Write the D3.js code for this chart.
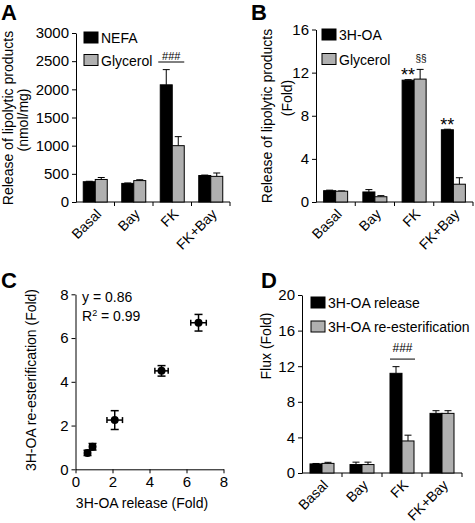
<!DOCTYPE html>
<html><head><meta charset="utf-8">
<script src="https://cdn.jsdelivr.net/npm/d3@7"></script>
<style>
body{margin:0;background:#fff;}
svg{display:block;font-family:"Liberation Sans",Arial,sans-serif;}
text{fill:#000;}
</style></head><body>
<svg id="c" width="475" height="523"></svg>
<script>
const categories = ["Basal","Bay","FK","FK+Bay"];
// Panel A
const nefa = [360, 330, 2080, 470];
const nefaErr = [8, 8, 270, 8];
const glycerolA = [400, 380, 1000, 455];
const glycerolAErr = [35, 15, 160, 60];
const ticksA = [0, 500, 1000, 1500, 2000, 2500, 3000];
// Panel B
const oaB = [1.05, 0.93, 11.3, 6.7];
const oaBErr = [0.05, 0.22, 0.05, 0.05];
const glycerolB = [1.0, 0.49, 11.4, 1.65];
const glycerolBErr = [0.03, 0.1, 0.9, 0.6];
const ticksB = [0, 4, 8, 12, 16];
// Panel C
const releaseX = [0.65, 0.92, 2.12, 4.65, 6.65];
const releaseXErr = [0.12, 0.15, 0.42, 0.36, 0.42];
const reestY = [0.75, 1.03, 2.25, 4.5, 6.7];
const reestYErr = [0.12, 0.15, 0.43, 0.24, 0.38];
const ticksC = [0, 2, 4, 6, 8];
// Panel D
const releaseD = [1.02, 0.95, 11.2, 6.7];
const releaseDErr = [0.05, 0.27, 0.75, 0.3];
const reestD = [1.08, 0.95, 3.6, 6.7];
const reestDErr = [0.12, 0.27, 0.65, 0.3];
const ticksD = [0, 4, 8, 12, 16, 20];

const GRAY = "#b0b0b0";
const TICKFONT = "15px";
const svg = d3.select("#c");

function barPanel(o){
  const g = svg.append("g");
  const x = d3.scaleBand().domain(categories).range([o.x0, o.x1]).padding(0);
  const x1 = d3.scaleBand().domain([0,1]).range([0, 24]);
  const off = (x.bandwidth() - 24) / 2;
  const y = d3.scaleLinear().domain([0, o.ymax]).range([o.y0, o.ytop]);
  const ya = g.append("g").attr("transform", `translate(${o.x0},0)`)
    .call(d3.axisLeft(y).tickValues(o.ticks).tickFormat(d3.format("d")).tickSize(4).tickPadding(3).tickSizeOuter(0));
  ya.select(".domain").attr("stroke","#000");
  ya.selectAll("text").style("font-size",TICKFONT).attr("fill","#000");
  const xa = g.append("g").attr("transform", `translate(0,${o.y0})`);
  xa.append("line").attr("x1", o.x0).attr("x2", o.x1).attr("stroke","#000");
  categories.forEach(c => {
    const bx = x(c) + x.bandwidth();
    xa.append("line").attr("x1", bx).attr("x2", bx).attr("y1", 0).attr("y2", 4).attr("stroke","#000");
  });
  categories.forEach(c => {
    const cx = x(c) + x.bandwidth()/2;
    xa.append("text").attr("text-anchor","end").style("font-size","14px")
      .attr("transform", `translate(${cx+7},${13}) rotate(-45)`).text(c);
  });
  o.series.forEach((s, si) => {
    categories.forEach((c, i) => {
      const bx = x(c) + off + x1(si);
      const v = s.values[i], e = s.err[i];
      g.append("line").attr("x1", bx + 6).attr("x2", bx + 6)
        .attr("y1", y(v)).attr("y2", y(v + e)).attr("stroke","#000");
      g.append("line").attr("x1", bx + 2.5).attr("x2", bx + 9.5)
        .attr("y1", y(v + e)).attr("y2", y(v + e)).attr("stroke","#000");
      g.append("rect").attr("x", bx).attr("y", y(v)).attr("width", 12)
        .attr("height", y(0) - y(v)).attr("fill", s.color).attr("stroke","#000").attr("stroke-width",1);
    });
  });
  o.series.forEach((s, si) => {
    const ly = o.legY + si * o.legStep;
    g.append("rect").attr("x", o.legX).attr("y", ly).attr("width", 14).attr("height", 11)
      .attr("fill", s.color).attr("stroke","#000");
    g.append("text").attr("x", o.legX + 17).attr("y", ly + 11).style("font-size","14px").text(s.name);
  });
  o.ylabel.forEach(l => {
    g.append("text").attr("text-anchor","middle").style("font-size","14px")
      .attr("transform", `translate(${l.x},${l.y}) rotate(-90)`).text(l.t);
  });
  g.append("text").attr("x", o.titleX).attr("y", o.titleY).style("font-size","22px")
    .style("font-weight","bold").text(o.title);
  return {g, x, y, off, x1};
}

const A = barPanel({x0:76, x1:230, y0:202, ytop:33, ymax:3000, ticks:ticksA,
  series:[{name:"NEFA", values:nefa, err:nefaErr, color:"#000"},
          {name:"Glycerol", values:glycerolA, err:glycerolAErr, color:GRAY}],
  legX:84, legY:32, legStep:22.5,
  ylabel:[{x:13, y:118, t:"Release of lipolytic products"},{x:28, y:120, t:"(nmol/mg)"}],
  title:"A", titleX:1, titleY:20});
{
  const fx = A.x("FK") + A.off;
  const ly = A.y(2485);
  A.g.append("line").attr("x1", fx - 2).attr("x2", fx + 24).attr("y1", ly).attr("y2", ly).attr("stroke","#000");
  A.g.append("text").attr("x", fx + 11).attr("y", ly - 2).attr("text-anchor","middle").style("font-size","11px").text("###");
}

const B = barPanel({x0:316, x1:473, y0:202, ytop:29.5, ymax:16, ticks:ticksB,
  series:[{name:"3H-OA", values:oaB, err:oaBErr, color:"#000"},
          {name:"Glycerol", values:glycerolB, err:glycerolBErr, color:GRAY}],
  legX:322, legY:29, legStep:24.5,
  ylabel:[{x:272, y:116, t:"Release of lipolytic products"},{x:292, y:98, t:"(Fold)"}],
  title:"B", titleX:251, titleY:20});
{
  const fk = B.x("FK") + B.off, fb = B.x("FK+Bay") + B.off;
  B.g.append("text").attr("x", fk + 6).attr("y", B.y(oaB[2]) + 1).attr("text-anchor","middle").style("font-size","18px").text("**");
  B.g.append("text").attr("x", fb + 6).attr("y", B.y(oaB[3]) + 1).attr("text-anchor","middle").style("font-size","18px").text("**");
  B.g.append("text").attr("x", fk + 19).attr("y", B.y(glycerolB[2] + glycerolBErr[2]) - 7).attr("text-anchor","middle").style("font-size","10px").text("§§");
}

const D = barPanel({x0:302, x1:462, y0:473, ytop:295, ymax:20, ticks:ticksD,
  series:[{name:"3H-OA release", values:releaseD, err:releaseDErr, color:"#000"},
          {name:"3H-OA re-esterification", values:reestD, err:reestDErr, color:GRAY}],
  legX:311, legY:297, legStep:24,
  ylabel:[{x:271, y:346, t:"Flux (Fold)"}],
  title:"D", titleX:261, titleY:288});
{
  const fx = D.x("FK") + D.off;
  const ly = D.y(12.8);
  D.g.append("line").attr("x1", fx).attr("x2", fx + 25).attr("y1", ly).attr("y2", ly).attr("stroke","#000");
  D.g.append("text").attr("x", fx + 12.5).attr("y", ly - 7).attr("text-anchor","middle").style("font-size","12px").text("###");
}

{
  const g = svg.append("g");
  const x = d3.scaleLinear().domain([0, 8]).range([75.5, 223.5]);
  const y = d3.scaleLinear().domain([0, 8]).range([469.3, 294.3]);
  const ya = g.append("g").attr("transform", `translate(${x(0)},0)`)
    .call(d3.axisLeft(y).tickValues(ticksC).tickSize(4).tickPadding(3).tickSizeOuter(0));
  ya.selectAll("text").style("font-size",TICKFONT);
  const xa = g.append("g").attr("transform", `translate(0,${y(0)})`)
    .call(d3.axisBottom(x).tickValues(ticksC).tickSize(4).tickPadding(3).tickSizeOuter(0));
  xa.selectAll("text").style("font-size",TICKFONT);
  releaseX.forEach((vx, i) => {
    const vy = reestY[i], ex = releaseXErr[i], ey = reestYErr[i];
    const px = x(vx), py = y(vy);
    g.append("line").attr("x1", x(vx - ex)).attr("x2", x(vx + ex)).attr("y1", py).attr("y2", py).attr("stroke","#000").attr("stroke-width",1.5);
    g.append("line").attr("x1", px).attr("x2", px).attr("y1", y(vy - ey)).attr("y2", y(vy + ey)).attr("stroke","#000").attr("stroke-width",1.5);
    [x(vx - ex), x(vx + ex)].forEach(cx => g.append("line").attr("x1", cx).attr("x2", cx).attr("y1", py - 3).attr("y2", py + 3).attr("stroke","#000").attr("stroke-width",1.5));
    [y(vy - ey), y(vy + ey)].forEach(cy => g.append("line").attr("x1", px - 4).attr("x2", px + 4).attr("y1", cy).attr("y2", cy).attr("stroke","#000").attr("stroke-width",1.5));
    g.append("circle").attr("cx", px).attr("cy", py).attr("r", 4).attr("fill","#000");
  });
  g.append("text").attr("x", 82).attr("y", 301.7).style("font-size","14px").text("y = 0.86");
  const t = g.append("text").attr("x", 82).attr("y", 320.7).style("font-size","14px");
  t.append("tspan").text("R");
  t.append("tspan").attr("dy", -5).style("font-size","9px").text("2");
  t.append("tspan").attr("dy", 5).text(" = 0.99");
  g.append("text").attr("text-anchor","middle").style("font-size","14px")
    .attr("transform", `translate(36,380) rotate(-90)`).text("3H-OA re-esterification (Fold)");
  g.append("text").attr("x", 142).attr("y", 508).attr("text-anchor","middle").style("font-size","14px").text("3H-OA release (Fold)");
  g.append("text").attr("x", 1).attr("y", 288).style("font-size","22px").style("font-weight","bold").text("C");
}
</script></body></html>
